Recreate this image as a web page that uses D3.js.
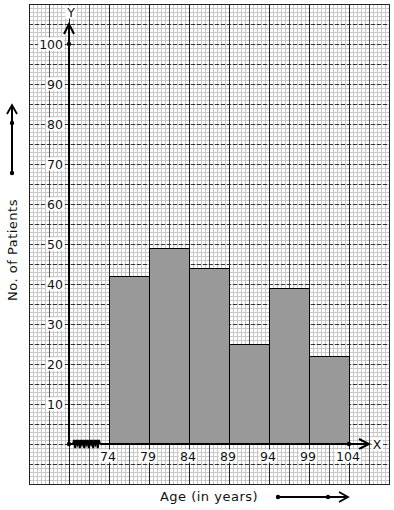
<!DOCTYPE html>
<html>
<head>
<meta charset="utf-8">
<script src="https://cdn.jsdelivr.net/npm/d3@7"></script>
<style>
  body { margin: 0; background: #fff; }
  text { font-family: "DejaVu Sans", sans-serif; fill: #111; }
</style>
</head>
<body>
<div id="chart"></div>
<script>
// histogram data
const ageStarts = [74, 79, 84, 89, 94, 99];
const binWidth = 5;
const patients = [42, 49, 44, 25, 39, 22];
const xTicks = [74, 79, 84, 89, 94, 99, 104];
const yTicks = [10, 20, 30, 40, 50, 60, 70, 80, 90, 100];

const W = 394, H = 510;
const paper = { left: 29, top: 4, right: 389, bottom: 484 };

const x = d3.scaleLinear().domain([69, 104]).range([69, 349]);
const y = d3.scaleLinear().domain([0, 100]).range([444, 44]);

const svg = d3.select("#chart").append("svg")
    .attr("width", W)
    .attr("height", H);

// graph paper - minor lines
const g = svg.append("g").attr("shape-rendering", "crispEdges");
g.selectAll(".minorV")
    .data(d3.range(paper.left, paper.right + 1, 4))
    .enter().append("line")
    .attr("x1", d => d + 0.5).attr("x2", d => d + 0.5)
    .attr("y1", paper.top).attr("y2", paper.bottom)
    .attr("stroke", "#c8c8c8");
g.selectAll(".minorH")
    .data(d3.range(paper.top, paper.bottom + 1, 4))
    .enter().append("line")
    .attr("x1", paper.left).attr("x2", paper.right)
    .attr("y1", d => d + 0.5).attr("y2", d => d + 0.5)
    .attr("stroke", "#c8c8c8");

// major lines
g.selectAll(".majorV")
    .data(d3.range(paper.left, paper.right + 1, 20))
    .enter().append("line")
    .attr("x1", d => d + 0.5).attr("x2", d => d + 0.5)
    .attr("y1", paper.top).attr("y2", paper.bottom)
    .attr("stroke", (d, i) => i % 2 === 0 ? "#222" : "#555")
    .attr("stroke-width", (d, i) => i % 2 === 0 ? 1.3 : 1);
g.selectAll(".majorH")
    .data(d3.range(paper.top, paper.bottom + 1, 20))
    .enter().append("line")
    .attr("x1", paper.left).attr("x2", paper.right)
    .attr("y1", d => d + 0.5).attr("y2", d => d + 0.5)
    .attr("stroke", "#333")
    .attr("stroke-dasharray", "4,2");

// paper border
g.append("rect")
    .attr("x", paper.left + 0.5).attr("y", paper.top + 0.5)
    .attr("width", paper.right - paper.left).attr("height", paper.bottom - paper.top)
    .attr("fill", "none").attr("stroke", "#222");

// bars
svg.selectAll(".bar")
    .data(ageStarts)
    .enter().append("rect")
    .attr("class", "bar")
    .attr("x", d => x(d) + 0.5)
    .attr("y", (d, i) => y(patients[i]) + 0.5)
    .attr("width", x(binWidth + 69) - x(69))
    .attr("height", (d, i) => y(0) - y(patients[i]))
    .attr("fill", "#999")
    .attr("stroke", "#000")
    .attr("stroke-width", 1);

// axes
const axis = svg.append("g").attr("stroke", "#000").attr("fill", "none");
const x0 = x(69), y0 = y(0);

// y axis with arrow
axis.append("line")
    .attr("x1", x0).attr("x2", x0)
    .attr("y1", y0).attr("y2", 24)
    .attr("stroke-width", 2);
axis.append("path")
    .attr("d", `M${x0 - 5},${34} L${x0},${24} L${x0 + 5},${34}`)
    .attr("stroke-width", 2);

// x axis with kink and arrow
let kink = `M${x0},${y0} L${x0 + 4},${y0}`;
for (let i = 0; i < 6; i++) {
    const sx = x0 + 4 + i * 4.5;
    kink += ` L${sx + 1.1},${y0 - 4} L${sx + 2.25},${y0 + 4} L${sx + 3.4},${y0 - 4} L${sx + 4.5},${y0}`;
}
axis.append("path").attr("d", kink).attr("stroke-width", 2);
axis.append("line")
    .attr("x1", x0 + 31).attr("x2", 369)
    .attr("y1", y0).attr("y2", y0)
    .attr("stroke-width", 2);
axis.append("path")
    .attr("d", `M${359},${y0 - 5} L${369},${y0} L${359},${y0 + 5}`)
    .attr("stroke-width", 2);

// dots
svg.selectAll(".dot")
    .data([[x0, y0], [x0, y(100)], [x(104), y0]])
    .enter().append("circle")
    .attr("cx", d => d[0]).attr("cy", d => d[1])
    .attr("r", 2.2)
    .attr("fill", "#000");

// labels with white background
function label(txt, cx, cy, anchor) {
    const t = svg.append("text")
        .attr("x", cx).attr("y", cy)
        .attr("text-anchor", anchor)
        .attr("dominant-baseline", "central")
        .attr("font-size", "12.5px")
        .text(txt);
    const b = t.node().getBBox();
    svg.insert("rect", () => t.node())
        .attr("x", b.x - 1).attr("y", b.y + 1)
        .attr("width", b.width + 2).attr("height", b.height - 2)
        .attr("fill", "#fff");
}

yTicks.forEach(v => label(v, 63, y(v), "end"));
xTicks.forEach(v => label(v, x(v) - 1, 456, "middle"));
label("Y", x0 + 2, 12, "middle");
label("X", 377, y0, "middle");

// axis titles
svg.append("text")
    .attr("x", 209).attr("y", 496)
    .attr("text-anchor", "middle")
    .attr("dominant-baseline", "central")
    .attr("font-size", "13px")
    .attr("letter-spacing", "0.5px")
    .text("Age (in years)");
svg.append("text")
    .attr("transform", "translate(12,250) rotate(-90)")
    .attr("text-anchor", "middle")
    .attr("dominant-baseline", "central")
    .attr("font-size", "13px")
    .attr("letter-spacing", "0.5px")
    .text("No. of Patients");

// direction arrows beside titles
const dir = svg.append("g").attr("stroke", "#000").attr("fill", "none");
dir.append("line").attr("x1", 278).attr("x2", 348).attr("y1", 497).attr("y2", 497).attr("stroke-width", 1.8);
dir.append("path").attr("d", "M339,492 L348,497 L339,502").attr("stroke-width", 1.8);
dir.append("line").attr("x1", 12).attr("x2", 12).attr("y1", 173).attr("y2", 105).attr("stroke-width", 2);
dir.append("path").attr("d", "M7,114 L12,105 L17,114").attr("stroke-width", 1.8);
svg.selectAll(".ddot")
    .data([[278, 497], [328, 497], [12, 173], [12, 123]])
    .enter().append("circle")
    .attr("cx", d => d[0]).attr("cy", d => d[1])
    .attr("r", 2.2)
    .attr("fill", "#000");
</script>
</body>
</html>
